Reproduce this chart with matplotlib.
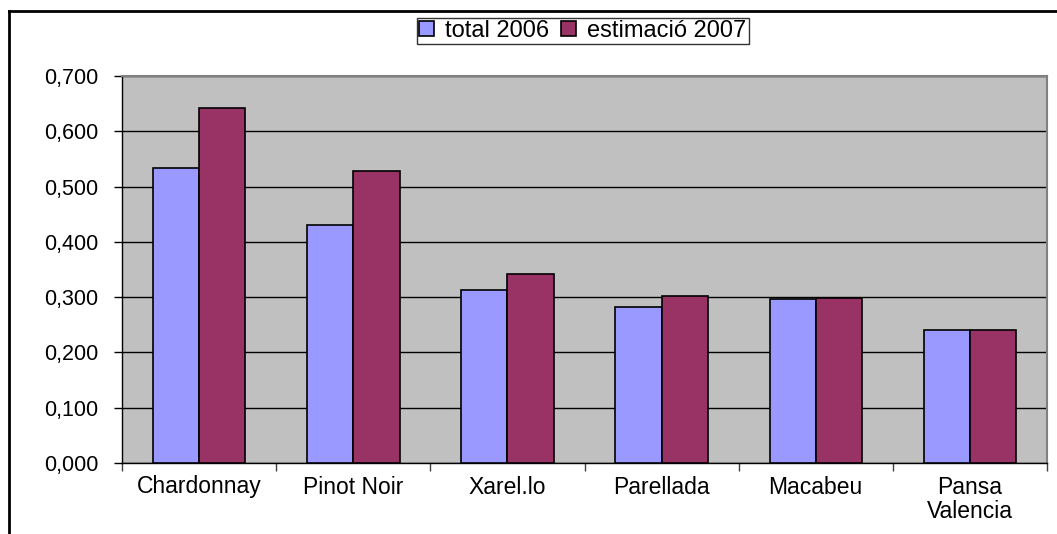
import numpy as np
import matplotlib.pyplot as plt
from matplotlib.lines import Line2D
from matplotlib.ticker import FuncFormatter, FixedLocator

# data
categories = ['Chardonnay', 'Pinot Noir', 'Xarel.lo', 'Parellada', 'Macabeu', 'Pansa\nValencia']
total_2006 = [0.533, 0.430, 0.313, 0.282, 0.297, 0.240]
estimacio_2007 = [0.643, 0.528, 0.342, 0.302, 0.298, 0.240]

plt.rcParams['font.family'] = ['Liberation Sans', 'DejaVu Sans']

fig = plt.figure(figsize=(10.57, 5.34), dpi=100)
ax = fig.add_axes([122 / 1057, 1 - 463 / 534, 925 / 1057, 387 / 534])

x = np.arange(len(categories))
w = 0.3
ax.bar(x - w / 2, total_2006, w, color='#9999FF', edgecolor='black', linewidth=1.2,
       label='total 2006', zorder=3)
ax.bar(x + w / 2, estimacio_2007, w, color='#993366', edgecolor='black', linewidth=1.2,
       label='estimació 2007', zorder=3)

ax.set_facecolor('#C0C0C0')
ax.set_xlim(-0.5, len(categories) - 0.5)
ax.set_ylim(0, 0.7)
ax.set_yticks(np.arange(0, 0.71, 0.1))
ax.yaxis.set_major_formatter(FuncFormatter(lambda v, p: f'{v:.3f}'.replace('.', ',')))
ax.grid(axis='y', color='black', linewidth=1, zorder=1)

# category ticks at boundaries, labels centered
ax.xaxis.set_major_locator(FixedLocator(np.arange(-0.5, len(categories), 1)))
ax.xaxis.set_major_formatter(FuncFormatter(lambda v, p: ''))
ax.set_xticks(x, minor=True)
ax.set_xticklabels(categories, minor=True, fontsize=16.5, linespacing=1.1)
ax.tick_params(axis='x', which='minor', length=0, pad=9)
ax.tick_params(axis='x', which='major', length=6, width=1, color='#404040')
ax.tick_params(axis='y', length=6, width=1, labelsize=15.5, pad=11)

for s in ['top', 'right']:
    ax.spines[s].set_color('#808080')
    ax.spines[s].set_linewidth(1.5)
for s in ['left', 'bottom']:
    ax.spines[s].set_color('black')
    ax.spines[s].set_linewidth(1)

leg = fig.legend(loc='center', bbox_to_anchor=(583 / 1057, 1 - 31 / 534), ncol=2,
                 fontsize=17, frameon=True, fancybox=False, edgecolor='black',
                 handlelength=0.6, handleheight=0.6, handletextpad=0.5,
                 columnspacing=0.5, borderpad=0.1, borderaxespad=0)
leg.get_frame().set_linewidth(1)

# outer chart frame (top and left edges visible)
fig.add_artist(Line2D([9 / 1057, 1], [1 - 11 / 534, 1 - 11 / 534], color='black', linewidth=2))
fig.add_artist(Line2D([9 / 1057, 9 / 1057], [0, 1 - 11 / 534], color='black', linewidth=2))

fig.savefig('out.png', dpi=100)
